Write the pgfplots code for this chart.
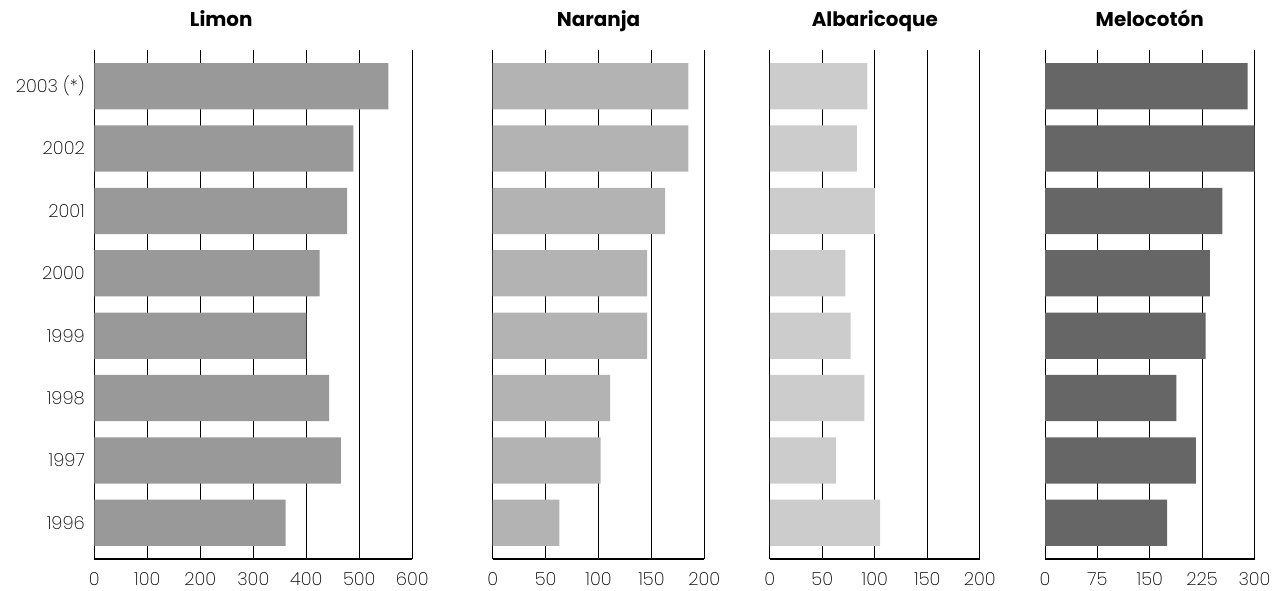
\documentclass[border=0pt]{standalone}
\usepackage{pgfplots}
\usepackage{pgfplotstable}
\pgfplotsset{compat=1.18}
\usepackage{fontspec}
\setmainfont{Poppins}[UprightFont=* ExtraLight, BoldFont=* Bold]

\definecolor{cLimon}{HTML}{999999}
\definecolor{cNaranja}{HTML}{B3B3B3}
\definecolor{cAlbar}{HTML}{CCCCCC}
\definecolor{cMelo}{HTML}{666666}

\pgfplotstableread{
idx limon naranja albaricoque melocoton
0 361 63 105 175
1 465 102 63 216
2 443 111 90 188
3 400 146 77 230
4 425 146 72 236
5 477 163 100 254
6 489 185 83 300
7 555 185 93 290
}\datatable

\pgfplotsset{panel/.style={
  scale only axis, height=509bp, anchor=south west,
  xbar, bar width=0.74, ymin=-0.58, ymax=7.58, xmin=0,
  ytick={0,...,7}, yticklabels={},
  axis x line*=bottom, axis y line*=left,
  y axis line style={draw=none},
  x axis line style={line width=2.6bp, black},
  major tick length=0pt, xmajorgrids,
  grid style={black, line width=0.9bp},
  tick label style={font=\fontsize{18}{21}\selectfont},
  /pgf/number format/assume math mode=true,
  xticklabel style={yshift=-10bp},
  yticklabel style={xshift=-6bp},
  title style={font=\bfseries\fontsize{20}{24}\selectfont, at={(0.5,1)}, anchor=base, yshift=18bp},
}}

\begin{document}
\begin{tikzpicture}
\useasboundingbox (0,0) rectangle (1278bp,-591bp);
\begin{axis}[panel, at={(94.3bp,-559bp)}, width=318bp, xmax=600,
  xtick={0,100,...,600},
  yticklabels={1996,1997,1998,1999,2000,2001,2002,2003 (*)},
  title={Limon}, title style={xshift=-32bp}]
\addplot[fill=cLimon, draw=none] table[x=limon, y=idx] {\datatable};
\end{axis}
\begin{axis}[panel, at={(492.7bp,-559bp)}, width=211.6bp, xmax=200,
  xtick={0,50,...,200}, title={Naranja}]
\addplot[fill=cNaranja, draw=none] table[x=naranja, y=idx] {\datatable};
\end{axis}
\begin{axis}[panel, at={(769.8bp,-559bp)}, width=210bp, xmax=200,
  xtick={0,50,...,200}, title={Albaricoque}]
\addplot[fill=cAlbar, draw=none] table[x=albaricoque, y=idx] {\datatable};
\end{axis}
\begin{axis}[panel, at={(1045bp,-559bp)}, width=209.5bp, xmax=300,
  xtick={0,75,...,300}, title={Melocotón}]
\addplot[fill=cMelo, draw=none] table[x=melocoton, y=idx] {\datatable};
\end{axis}
\end{tikzpicture}
\end{document}
